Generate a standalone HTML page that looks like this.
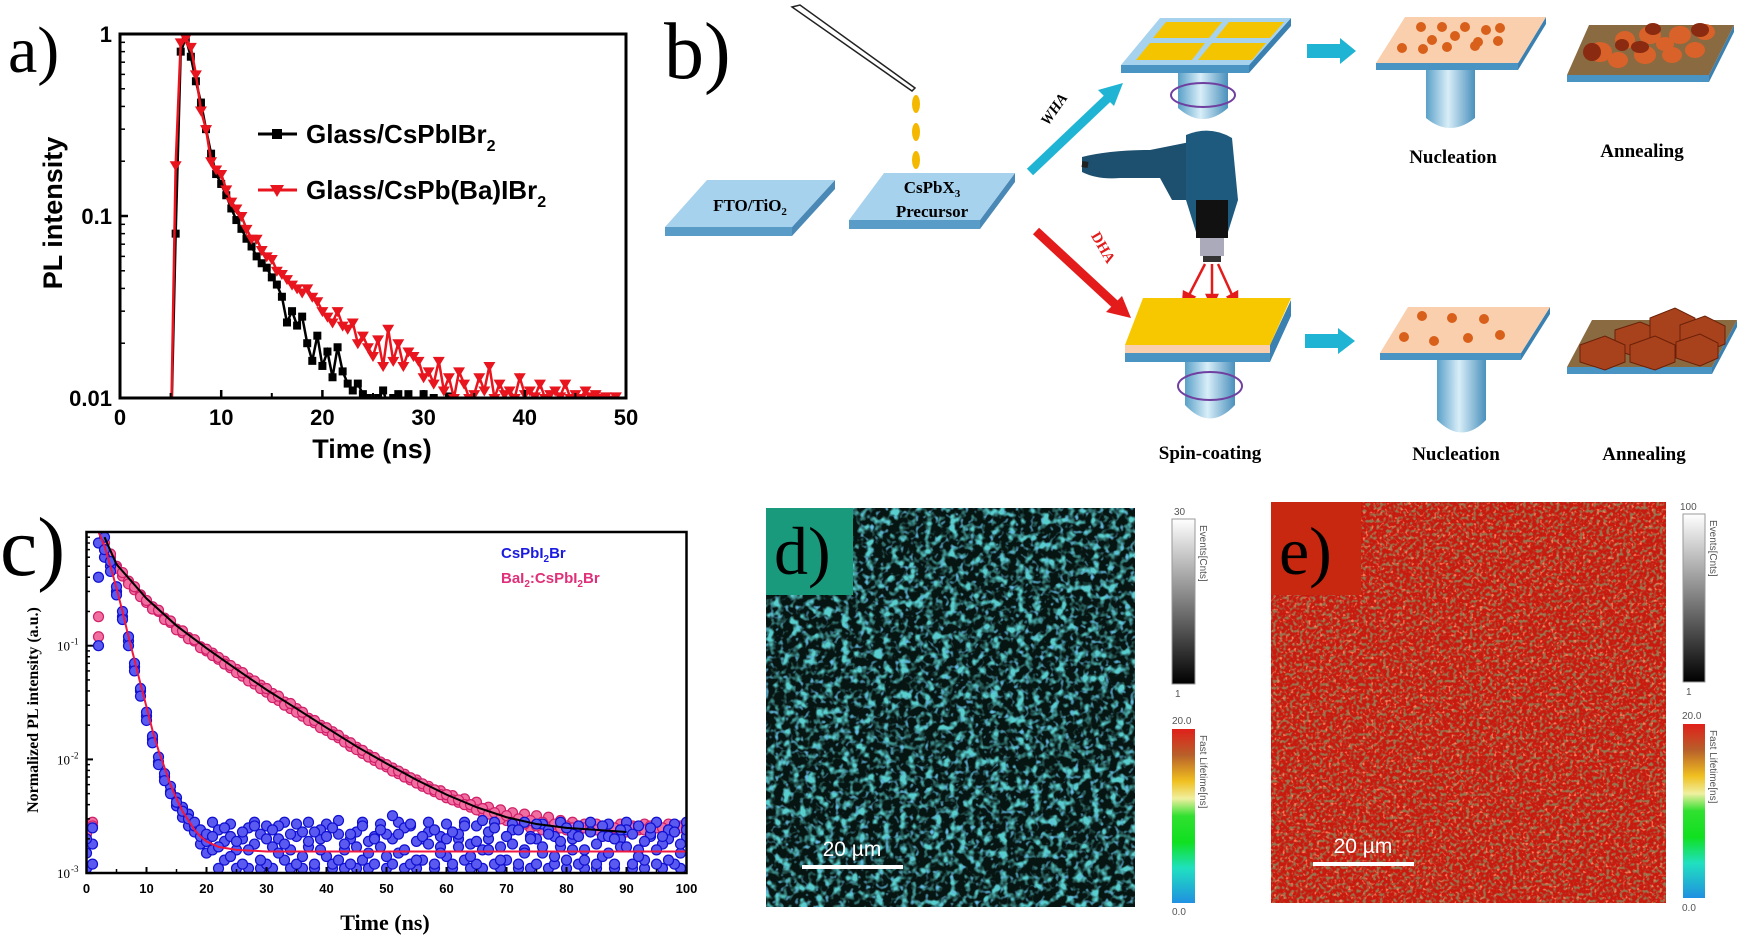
<!DOCTYPE html>
<html><head><meta charset="utf-8">
<style>
html,body{margin:0;padding:0;background:#fff;}
svg{display:block;}
.serif{font-family:"Liberation Serif",serif;}
.sans{font-family:"Liberation Sans",sans-serif;}
</style></head>
<body>
<svg id="fig" width="1750" height="937" viewBox="0 0 1750 937" xmlns="http://www.w3.org/2000/svg">
<defs>
  <clipPath id="clipA"><rect x="120" y="30" width="506" height="368"/></clipPath>
  <clipPath id="clipC"><rect x="86" y="530" width="601" height="343"/></clipPath>
  <clipPath id="clipD"><rect x="766" y="508" width="369" height="399"/></clipPath>
  <clipPath id="clipE"><rect x="1271" y="502" width="395" height="401"/></clipPath>
  <filter id="blobD" x="0" y="0" width="1" height="1">
    <feTurbulence type="fractalNoise" baseFrequency="0.12" numOctaves="2" seed="4"/>
    <feColorMatrix values="0 0 0 0 0.1  0 0 0 0 0.62  0 0 0 0 0.62  4 0 0 0 -1.9"/>
  </filter>
  <filter id="blobD2" x="0" y="0" width="1" height="1">
    <feTurbulence type="fractalNoise" baseFrequency="0.2" numOctaves="1" seed="9"/>
    <feColorMatrix values="0 0 0 0 0.12  0 0 0 0 0.5  0 0 0 0 0.75  5 0 0 0 -2.9"/>
  </filter>
  <filter id="speckE" x="0" y="0" width="1" height="1">
    <feTurbulence type="fractalNoise" baseFrequency="0.3" numOctaves="1" seed="2"/>
    <feColorMatrix values="0 0 0 0 0.3  0 0 0 0 0.18  0 0 0 0 0.08  5 0 0 0 -2.4"/>
  </filter>
  <filter id="speckE2" x="0" y="0" width="1" height="1">
    <feTurbulence type="fractalNoise" baseFrequency="0.35" numOctaves="1" seed="7"/>
    <feColorMatrix values="0 0 0 0 1  0 0 0 0 0.2  0 0 0 0 0.1  6 0 0 0 -3.5"/>
  </filter>
  <linearGradient id="gray" x1="0" y1="0" x2="0" y2="1"><stop offset="0" stop-color="#fff"/><stop offset="1" stop-color="#000"/></linearGradient>
  <linearGradient id="rainbow" x1="0" y1="0" x2="0" y2="1">
    <stop offset="0" stop-color="#e0201a"/><stop offset="0.15" stop-color="#b8602a"/><stop offset="0.3" stop-color="#f0c020"/>
    <stop offset="0.4" stop-color="#f0f0a0"/><stop offset="0.5" stop-color="#30e030"/><stop offset="0.65" stop-color="#10e020"/>
    <stop offset="0.8" stop-color="#20e0c0"/><stop offset="1" stop-color="#2090e0"/></linearGradient>
  <linearGradient id="pillar" x1="0" y1="0" x2="1" y2="0"><stop offset="0" stop-color="#5aa0c8"/><stop offset="0.45" stop-color="#d8eef8"/><stop offset="1" stop-color="#4a90bc"/></linearGradient>
</defs>

<!-- ============ PANEL A ============ -->
<g id="panelA">
  <text x="8" y="72" class="serif" font-size="66">a)</text>
  <g id="aMarks" clip-path="url(#clipA)"></g>
  <rect x="120" y="34" width="506" height="364" fill="none" stroke="#000" stroke-width="3"/>
  <g id="aAxes"></g>
  <text transform="translate(62,213) rotate(-90)" text-anchor="middle" class="sans" font-weight="bold" font-size="27">PL intensity</text>
  <text x="372" y="458" text-anchor="middle" class="sans" font-weight="bold" font-size="27">Time (ns)</text>
  <g>
    <g>
      <line x1="258" y1="134" x2="297" y2="134" stroke="#000" stroke-width="3"/>
      <rect x="272" y="129" width="10" height="10" fill="#000"/>
      <text x="306" y="143" class="sans" font-weight="bold" font-size="26">Glass/CsPbIBr<tspan font-size="16" dy="8">2</tspan></text>
    </g>
    <g>
      <line x1="258" y1="190" x2="297" y2="190" stroke="#e8141e" stroke-width="3"/>
      <path d="M270 185 L284 185 L277 197 Z" fill="#e8141e"/>
      <text x="306" y="199" class="sans" font-weight="bold" font-size="26">Glass/CsPb(Ba)IBr<tspan font-size="16" dy="8">2</tspan></text>
    </g>
  </g>
</g>

<!-- ============ PANEL C ============ -->
<g id="panelC">
  <text x="0" y="575" class="serif" font-size="84">c)</text>
  <g id="cMarks" clip-path="url(#clipC)"></g>
  <rect x="86.5" y="532" width="600" height="341" fill="none" stroke="#000" stroke-width="2.5"/>
  <g id="cAxes"></g>
  <text transform="translate(38,710) rotate(-90)" text-anchor="middle" class="serif" font-weight="bold" font-size="16">Normalized PL intensity (a.u.)</text>
  <text x="385" y="930" text-anchor="middle" class="serif" font-weight="bold" font-size="22">Time (ns)</text>
  <text x="501" y="558" class="sans" font-weight="bold" font-size="15" fill="#1a1ae0">CsPbI<tspan font-size="10" dy="4">2</tspan><tspan dy="-4">Br</tspan></text>
  <text x="501" y="583" class="sans" font-weight="bold" font-size="15" fill="#e0307a">BaI<tspan font-size="10" dy="4">2</tspan><tspan dy="-4">:CsPbI</tspan><tspan font-size="10" dy="4">2</tspan><tspan dy="-4">Br</tspan></text>
</g>

<!-- ============ PANEL B (schematic) ============ -->
<g id="panelB">
  <text x="664" y="78" class="serif" font-size="80">b)</text>
  <g>
    <path d="M792 7 L800 5 L915 88 L912 91 Z" fill="#fff" stroke="#222" stroke-width="1.5"/>
    <ellipse cx="916" cy="104" rx="4" ry="9" fill="#f5b800"/>
    <ellipse cx="916" cy="132" rx="4" ry="9" fill="#f5b800"/>
    <ellipse cx="916" cy="160" rx="4" ry="9" fill="#f5b800"/>
  </g>
  <g>
    <polygon points="665,227 792,227 792,236 665,236" fill="#5a9cc8"/>
    <polygon points="792,227 835,180 835,189 792,236" fill="#4a88b6"/>
    <polygon points="707,180 835,180 792,227 665,227" fill="#a6d2ee"/>
    <text x="750" y="211" text-anchor="middle" class="serif" font-weight="bold" font-size="17">FTO/TiO<tspan font-size="11" dy="4">2</tspan></text>
  </g>
  <g>
    <polygon points="849,220 980,220 980,229 849,229" fill="#5a9cc8"/>
    <polygon points="980,220 1015,173 1015,182 980,229" fill="#4a88b6"/>
    <polygon points="884,173 1015,173 980,220 849,220" fill="#a6d2ee"/>
    <text x="932" y="193" text-anchor="middle" class="serif" font-weight="bold" font-size="17">CsPbX<tspan font-size="11" dy="4">3</tspan></text>
    <text x="932" y="217" text-anchor="middle" class="serif" font-weight="bold" font-size="17">Precursor</text>
  </g>
  <g>
    <line x1="1030" y1="172" x2="1110" y2="96" stroke="#20b4d4" stroke-width="9"/>
    <polygon points="1123,83 1098,90 1114,106" fill="#20b4d4"/>
    <text transform="translate(1058,112) rotate(-55)" text-anchor="middle" class="serif" font-weight="bold" font-style="italic" font-size="15">WHA</text>
  </g>
  <g>
    <line x1="1036" y1="231" x2="1117" y2="306" stroke="#e41b1b" stroke-width="9"/>
    <polygon points="1131,318 1106,312 1122,296" fill="#e41b1b"/>
    <text transform="translate(1099,250) rotate(60)" text-anchor="middle" class="serif" font-weight="bold" font-size="15" fill="#e41b1b">DHA</text>
  </g>
  <g>
    <path d="M1082 157 Q1110 150 1150 150 L1190 142 L1196 200 L1172 200 L1160 178 L1120 178 Q1098 180 1082 172 Z" fill="#1d4f6e"/>
    <path d="M1186 135 Q1210 125 1232 138 L1238 200 L1228 232 L1196 232 L1186 200 Z" fill="#1e5a7e"/>
    <rect x="1196" y="200" width="32" height="38" fill="#111"/>
    <rect x="1200" y="238" width="24" height="18" fill="#aab"/>
    <rect x="1203" y="256" width="18" height="6" fill="#333"/>
    <path d="M1082 164 L1088 165" stroke="#222" stroke-width="6"/>
  </g>
  <g stroke="#e41b1b" stroke-width="2.5" fill="#e41b1b">
    <line x1="1205" y1="264" x2="1188" y2="297"/><polygon points="1183,305 1184,292 1194,297"/>
    <line x1="1212" y1="264" x2="1212" y2="298"/><polygon points="1212,306 1207,295 1217,295"/>
    <line x1="1218" y1="264" x2="1233" y2="297"/><polygon points="1237,305 1228,297 1237,292"/>
  </g>
  <g>
    <path d="M1178 72 L1228 72 L1228 108 Q1203 130 1178 108 Z" fill="url(#pillar)"/>
    <ellipse cx="1203" cy="95" rx="32" ry="12" fill="none" stroke="#7040a0" stroke-width="2"/>
    <polygon points="1121,65 1249,65 1249,73 1121,73" fill="#4a94c4"/>
    <polygon points="1249,65 1291,18 1291,26 1249,73" fill="#3a80b0"/>
    <polygon points="1160,18 1291,18 1249,65 1121,65" fill="#a6d2ee"/>
    <polygon points="1166,22 1222,22 1209,38 1153,38" fill="#f5c400"/>
    <polygon points="1229,22 1284,22 1270,38 1216,38" fill="#f5c400"/>
    <polygon points="1150,43 1205,43 1192,60 1136,60" fill="#f5c400"/>
    <polygon points="1212,43 1266,43 1252,60 1198,60" fill="#f5c400"/>
  </g>
  <polygon points="1307,44 1340,44 1340,38 1356,51 1340,64 1340,58 1307,58" fill="#20b4d4"/>
  <g>
    <path d="M1426 67 L1475 67 L1475 118 Q1450 138 1426 118 Z" fill="url(#pillar)"/>
    <polygon points="1376,63 1518,63 1518,70 1376,70" fill="#4a94c4"/>
    <polygon points="1518,63 1546,17 1546,24 1518,70" fill="#3a80b0"/>
    <polygon points="1405,17 1546,17 1518,63 1376,63" fill="#f9cfae"/>
    <g fill="#d8601a"><circle cx="1421" cy="27" r="5"/><circle cx="1442" cy="27" r="5"/><circle cx="1465" cy="27" r="5"/><circle cx="1486" cy="30" r="5"/><circle cx="1500" cy="28" r="5"/><circle cx="1432" cy="40" r="5"/><circle cx="1455" cy="36" r="5"/><circle cx="1478" cy="42" r="5"/><circle cx="1498" cy="41" r="5"/><circle cx="1402" cy="48" r="5"/><circle cx="1423" cy="49" r="5"/><circle cx="1447" cy="47" r="5"/><circle cx="1475" cy="46" r="5"/></g>
  </g>
  <g>
    <polygon points="1567,75 1709,75 1709,82 1567,82" fill="#4a94c4"/>
    <polygon points="1709,75 1734,25 1734,32 1709,82" fill="#3a80b0"/>
    <polygon points="1589,25 1734,25 1709,75 1567,75" fill="#8a6a40"/>
    <g fill="#d8622a"><ellipse cx="1600" cy="52" rx="12" ry="10"/><ellipse cx="1625" cy="40" rx="10" ry="9"/><ellipse cx="1650" cy="35" rx="11" ry="9"/><ellipse cx="1680" cy="35" rx="11" ry="9"/><ellipse cx="1705" cy="32" rx="10" ry="8"/><ellipse cx="1618" cy="60" rx="10" ry="8"/><ellipse cx="1645" cy="55" rx="11" ry="9"/><ellipse cx="1672" cy="55" rx="10" ry="8"/><ellipse cx="1695" cy="50" rx="10" ry="8"/><ellipse cx="1665" cy="44" rx="9" ry="7"/></g>
    <g fill="#8a2a10"><ellipse cx="1592" cy="52" rx="9" ry="9"/><ellipse cx="1653" cy="29" rx="8" ry="6"/><ellipse cx="1700" cy="30" rx="9" ry="7"/><ellipse cx="1640" cy="47" rx="9" ry="6"/><ellipse cx="1622" cy="45" rx="7" ry="6"/></g>
  </g>
  <text x="1453" y="163" text-anchor="middle" class="serif" font-weight="bold" font-size="19">Nucleation</text>
  <text x="1642" y="157" text-anchor="middle" class="serif" font-weight="bold" font-size="19">Annealing</text>
  <g>
    <path d="M1185 362 L1235 362 L1235 405 Q1210 432 1185 405 Z" fill="url(#pillar)"/>
    <ellipse cx="1210" cy="386" rx="32" ry="14" fill="none" stroke="#7040a0" stroke-width="2"/>
    <polygon points="1125,345 1270,345 1270,353 1125,353" fill="#f9cfae"/>
    <polygon points="1125,353 1270,353 1270,362 1125,362" fill="#4a94c4"/>
    <polygon points="1270,345 1291,300 1291,316 1270,362" fill="#3a80b0"/>
    <polygon points="1143,298 1291,298 1270,345 1125,345" fill="#f7c800"/>
  </g>
  <polygon points="1305,334 1338,334 1338,328 1355,341 1338,354 1338,348 1305,348" fill="#20b4d4"/>
  <g>
    <path d="M1437 358 L1486 358 L1486 420 Q1462 445 1437 420 Z" fill="url(#pillar)"/>
    <polygon points="1380,353 1521,353 1521,360 1380,360" fill="#4a94c4"/>
    <polygon points="1521,353 1550,307 1550,314 1521,360" fill="#3a80b0"/>
    <polygon points="1408,307 1550,307 1521,353 1380,353" fill="#f9cfae"/>
    <g fill="#d8601a"><circle cx="1422" cy="316" r="5"/><circle cx="1452" cy="318" r="5"/><circle cx="1484" cy="319" r="5"/><circle cx="1404" cy="337" r="5"/><circle cx="1434" cy="341" r="5"/><circle cx="1468" cy="338" r="5"/><circle cx="1500" cy="335" r="5"/></g>
  </g>
  <g>
    <polygon points="1567,367 1712,367 1712,374 1567,374" fill="#4a94c4"/>
    <polygon points="1712,367 1737,320 1737,327 1712,374" fill="#3a80b0"/>
    <polygon points="1592,320 1737,320 1712,367 1567,367" fill="#8a6a40"/>
    <g fill="#a8421c" stroke="#6a2008" stroke-width="1"><polygon points="1615,330 1640,322 1660,330 1660,350 1640,358 1615,350"/><polygon points="1650,318 1675,308 1695,318 1695,338 1675,346 1650,338"/><polygon points="1680,325 1705,316 1725,326 1725,344 1705,352 1680,344"/><polygon points="1580,345 1605,336 1625,345 1625,362 1605,370 1580,362"/><polygon points="1630,345 1655,336 1675,345 1675,362 1655,370 1630,362"/><polygon points="1676,342 1700,334 1718,343 1718,358 1700,366 1676,358"/></g>
  </g>
  <text x="1210" y="459" text-anchor="middle" class="serif" font-weight="bold" font-size="19">Spin-coating</text>
  <text x="1456" y="460" text-anchor="middle" class="serif" font-weight="bold" font-size="19">Nucleation</text>
  <text x="1644" y="460" text-anchor="middle" class="serif" font-weight="bold" font-size="19">Annealing</text>
</g>

<!-- ============ PANEL D ============ -->
<g id="panelD">
  <g clip-path="url(#clipD)">
    <rect x="766" y="508" width="369" height="399" fill="#071512"/>
    <rect x="766" y="508" width="369" height="399" filter="url(#blobD)"/>
    <rect x="766" y="508" width="369" height="399" filter="url(#blobD2)"/>
  </g>
  <rect x="766" y="508" width="87" height="87" fill="#1a9a7c"/>
  <text x="774" y="574" class="serif" font-size="68">d)</text>
  <line x1="802" y1="867" x2="903" y2="867" stroke="#fff" stroke-width="4"/>
  <text x="852" y="856" text-anchor="middle" class="sans" font-size="21" fill="#fff">20 µm</text>
  <g>
    <rect x="1172" y="519" width="23" height="165" fill="url(#gray)" stroke="#999"/>
    <text x="1174" y="515" class="sans" font-size="10" fill="#555">30</text>
    <text x="1175" y="697" class="sans" font-size="10" fill="#555">1</text>
    <text transform="translate(1200,525) rotate(90)" class="sans" font-size="10" fill="#555">Events[Cnts]</text>
  </g>
  <g>
    <rect x="1172" y="729" width="23" height="174" fill="url(#rainbow)"/>
    <text x="1172" y="724" class="sans" font-size="10" fill="#555">20.0</text>
    <text x="1172" y="915" class="sans" font-size="10" fill="#555">0.0</text>
    <text transform="translate(1200,735) rotate(90)" class="sans" font-size="10" fill="#555">Fast Lifetime[ns]</text>
  </g>
</g>

<!-- ============ PANEL E ============ -->
<g id="panelE">
  <g clip-path="url(#clipE)">
    <rect x="1271" y="502" width="395" height="401" fill="#c81a0e"/>
    <rect x="1271" y="502" width="395" height="401" filter="url(#speckE)"/>
    <rect x="1271" y="502" width="395" height="401" filter="url(#speckE2)"/>
  </g>
  <rect x="1271" y="502" width="90" height="93" fill="#c8280f"/>
  <text x="1279" y="574" class="serif" font-size="68">e)</text>
  <line x1="1313" y1="864" x2="1414" y2="864" stroke="#fff" stroke-width="4"/>
  <text x="1363" y="853" text-anchor="middle" class="sans" font-size="21" fill="#fff">20 µm</text>
  <g>
    <rect x="1683" y="514" width="22" height="168" fill="url(#gray)" stroke="#999"/>
    <text x="1680" y="510" class="sans" font-size="10" fill="#555">100</text>
    <text x="1686" y="695" class="sans" font-size="10" fill="#555">1</text>
    <text transform="translate(1710,520) rotate(90)" class="sans" font-size="10" fill="#555">Events[Cnts]</text>
  </g>
  <g>
    <rect x="1683" y="724" width="22" height="174" fill="url(#rainbow)"/>
    <text x="1682" y="719" class="sans" font-size="10" fill="#555">20.0</text>
    <text x="1682" y="911" class="sans" font-size="10" fill="#555">0.0</text>
    <text transform="translate(1710,730) rotate(90)" class="sans" font-size="10" fill="#555">Fast Lifetime[ns]</text>
  </g>
</g>
</svg>

<script>
// ---------- Panel A data ----------
const aStart = 5.0, aStep = 0.5;
const aXTicks = [0, 10, 20, 30, 40, 50];
const aYTicks = [1, 0.1, 0.01];
const aYTickLabels = ["1", "0.1", "0.01"];
const blackVals = [0.005,0.08,0.8,0.95,0.75,0.55,0.42,0.3,0.22,0.17,0.15,0.13,0.11,0.095,0.085,0.075,0.068,0.06,0.055,0.052,0.046,0.042,0.036,0.026,0.03,0.025,0.028,0.02,0.016,0.022,0.015,0.018,0.013,0.019,0.014,0.012,0.011,0.012,0.0105,0.01,0.009,0.01,0.011,0.009,0.01,0.0105,0.0095,0.0105,0.009,0.008,0.0105,0.009,0.01,0.008,0.009,0.0102,0.008];
const redVals = [0.005,0.19,0.9,0.95,0.85,0.6,0.38,0.3,0.2,0.18,0.17,0.14,0.12,0.11,0.1,0.085,0.075,0.075,0.065,0.06,0.058,0.05,0.048,0.045,0.042,0.04,0.038,0.04,0.036,0.034,0.03,0.028,0.026,0.03,0.025,0.024,0.026,0.02,0.022,0.019,0.017,0.021,0.015,0.024,0.016,0.02,0.015,0.018,0.017,0.016,0.013,0.014,0.012,0.016,0.011,0.013,0.01,0.014,0.012,0.01,0.0105,0.013,0.011,0.015,0.01,0.012,0.0105,0.011,0.01,0.013,0.0105,0.011,0.0102,0.012,0.01,0.0105,0.011,0.0102,0.012,0.01,0.0105,0.01,0.011,0.0102,0.0105,0.01,0.0102,0.0098,0.0102];

// ---------- Panel C data ----------
const cStart = 0, cStep = 1;
const cXTicks = [0,10,20,30,40,50,60,70,80,90,100];
const cYTicks = [1, 0.1, 0.01, 0.001];
const cYTickLabels = ["", "10", "10", "10"];
const cYTickExp = ["", "-1", "-2", "-3"];
const blueA = [0.002,0.0025,0.8,0.7,0.45,0.28,0.17,0.1,0.06,0.036,0.022,0.014,0.009,0.0065,0.005,0.0042,0.0035,0.003,0.0028,0.0024,0.0022,0.0021,0.0017,0.0025,0.0014,0.0019,0.0023,0.0016,0.0026,0.0013,0.002,0.0024,0.0015,0.0018,0.0022,0.0027,0.0014,0.0019,0.0023,0.0016,0.0021,0.0025,0.0013,0.0018,0.0022,0.0017,0.0026,0.0015,0.002,0.0024,0.0014,0.0032,0.0022,0.0016,0.0027,0.0013,0.0021,0.0018,0.0024,0.0015,0.002,0.0023,0.0017,0.0026,0.0014,0.0019,0.0029,0.0016,0.0025,0.0013,0.0021,0.0018,0.0024,0.0015,0.002,0.0027,0.0017,0.0022,0.0014,0.0019,0.0025,0.0016,0.0021,0.0013,0.0023,0.0018,0.0026,0.0015,0.002,0.0024,0.0017,0.0022,0.0014,0.0019,0.0025,0.0016,0.0021,0.0013,0.0023,0.0018,0.0024];
const blueB = [0.0015,0.0012,0.4,0.9,0.55,0.33,0.2,0.12,0.07,0.042,0.026,0.016,0.0105,0.0075,0.0058,0.0046,0.0038,0.0033,0.0026,0.0021,0.0019,0.0016,0.0024,0.0013,0.0021,0.0016,0.0012,0.0025,0.0018,0.0022,0.0012,0.0017,0.0026,0.0013,0.0016,0.0012,0.0023,0.0017,0.0012,0.0024,0.0014,0.0012,0.0022,0.0016,0.0012,0.0023,0.0013,0.0019,0.0012,0.0017,0.0022,0.0012,0.0015,0.0025,0.0012,0.0019,0.0013,0.0023,0.0012,0.0017,0.0014,0.0012,0.0022,0.0013,0.0018,0.0012,0.0016,0.0023,0.0012,0.0017,0.0013,0.0024,0.0012,0.0016,0.0021,0.0012,0.0015,0.0024,0.0012,0.0017,0.0013,0.0022,0.0012,0.0016,0.0023,0.0012,0.0014,0.0021,0.0012,0.0017,0.0024,0.0012,0.0016,0.0013,0.0022,0.0012,0.0018,0.0024,0.0012,0.0015,0.0021];
const blueC = [0.0011,0.0018,0.1,0.6,0.5,0.3,0.18,0.11,0.065,0.04,0.024,0.015,0.0095,0.007,0.0052,0.0039,0.0031,0.0026,0.0023,0.0018,0.0015,0.0028,0.0011,0.0019,0.0027,0.0011,0.002,0.0011,0.0028,0.0011,0.0026,0.0011,0.002,0.0028,0.0011,0.0021,0.0011,0.0028,0.0011,0.002,0.0027,0.0011,0.0029,0.0011,0.002,0.0011,0.0028,0.0011,0.0021,0.0027,0.0011,0.002,0.0028,0.0011,0.0026,0.0011,0.002,0.0028,0.0011,0.0021,0.0027,0.0011,0.002,0.0028,0.0011,0.0026,0.0011,0.002,0.0028,0.0011,0.0021,0.0027,0.0011,0.0028,0.0011,0.002,0.0027,0.0011,0.0021,0.0028,0.0011,0.002,0.0026,0.0011,0.0028,0.0011,0.0021,0.0027,0.0011,0.002,0.0028,0.0011,0.0026,0.0011,0.0021,0.0028,0.0011,0.002,0.0027,0.0011,0.0028];
const pinkA = [0.0025,0.0028,0.18,0.8,0.6,0.5,0.41,0.37,0.31,0.28,0.24,0.22,0.2,0.175,0.16,0.14,0.13,0.118,0.11,0.098,0.09,0.086,0.076,0.073,0.064,0.062,0.054,0.052,0.046,0.045,0.039,0.038,0.033,0.032,0.028,0.028,0.024,0.023,0.021,0.02,0.018,0.0175,0.0155,0.0148,0.013,0.0128,0.0113,0.011,0.0098,0.0095,0.0086,0.0084,0.0075,0.0074,0.0066,0.0066,0.0058,0.0058,0.0052,0.0053,0.0046,0.0048,0.0042,0.0045,0.0038,0.0042,0.0034,0.0038,0.0031,0.0036,0.0029,0.0034,0.0027,0.0033,0.0025,0.0032,0.0024,0.0031,0.0023,0.0029,0.0024,0.0028,0.0023,0.0027,0.0024,0.0027,0.0023,0.0026,0.0024,0.0027,0.0023,0.0026,0.0024,0.0027,0.0023,0.0026,0.0024,0.0027,0.0023,0.0026,0.0025];
const pinkB = [0.0022,0.0026,0.12,0.7,0.64,0.48,0.44,0.35,0.33,0.27,0.25,0.21,0.205,0.17,0.165,0.138,0.135,0.115,0.113,0.096,0.093,0.082,0.079,0.069,0.067,0.058,0.058,0.049,0.049,0.042,0.042,0.035,0.036,0.03,0.031,0.026,0.026,0.022,0.022,0.019,0.019,0.0165,0.0163,0.0142,0.014,0.0122,0.012,0.0105,0.0104,0.0091,0.009,0.0079,0.0079,0.007,0.0069,0.0062,0.0061,0.0055,0.0054,0.0049,0.0049,0.0044,0.0044,0.004,0.004,0.0036,0.0037,0.0033,0.0034,0.003,0.0032,0.0028,0.003,0.0027,0.0029,0.0026,0.0028,0.0025,0.0027,0.0025,0.0026,0.0025,0.0026,0.0025,0.0026,0.0024,0.0026,0.0025,0.0025,0.0024,0.0026,0.0025,0.0025,0.0024,0.0026,0.0025,0.0025,0.0024,0.0026,0.0025,0.0025];
const fitBlueT = [2,3,4,5,6,7,8,9,10,11,12,13,14,15,16,17,18,19,20,22,25,30,100];
const fitBlueV = [1,0.75,0.5,0.32,0.2,0.12,0.075,0.046,0.029,0.018,0.012,0.0085,0.006,0.0045,0.0035,0.0029,0.0024,0.0021,0.0019,0.0017,0.0016,0.00155,0.00155];
const fitPinkT = [3,5,10,15,20,25,30,35,40,45,50,55,60,65,70,75,80,85,90];
const fitPinkV = [0.9,0.52,0.26,0.15,0.095,0.062,0.041,0.028,0.019,0.013,0.0092,0.0066,0.0049,0.0038,0.0031,0.0027,0.0025,0.0024,0.0023];

const NS = "http://www.w3.org/2000/svg";
function mk(tag, attrs, parent) {
  const e = document.createElementNS(NS, tag);
  for (const k in attrs) e.setAttribute(k, attrs[k]);
  parent.appendChild(e);
  return e;
}

const axA = { x: t => 120 + t * (506 / 50), y: v => 34 + (-Math.log10(v)) * 182 };
const axC = { x: t => 86.5 + t * 6.0, y: v => 532 + (-Math.log10(v)) * 113.7 };

(function () {
  const g = document.getElementById("aAxes");
  aXTicks.forEach(t => {
    const l = mk("line", { x1: axA.x(t), x2: axA.x(t), y1: 398, y2: 390, stroke: "#000", "stroke-width": 2.5 }, g);
    
    
    const tx = mk("text", { x: axA.x(t), y: 425, "text-anchor": "middle", class: "sans", "font-weight": "bold", "font-size": 22 }, g);
    tx.textContent = t;
    
    
  });
  for (let t = 5; t < 50; t += 10) {
    mk("line", { x1: axA.x(t), x2: axA.x(t), y1: 398, y2: 393, stroke: "#000", "stroke-width": 2 }, g);
  }
  aYTicks.forEach((v, i) => {
    mk("line", { x1: 120, x2: 128, y1: axA.y(v), y2: axA.y(v), stroke: "#000", "stroke-width": 2.5 }, g);
    const tx = mk("text", { x: 112, y: axA.y(v) + 8, "text-anchor": "end", class: "sans", "font-weight": "bold", "font-size": 22 }, g);
    tx.textContent = aYTickLabels[i];
    
    
  });
  [0.1, 0.01].forEach(d => { for (let m = 2; m < 10; m++) {
    mk("line", { x1: 120, x2: 125, y1: axA.y(d * m), y2: axA.y(d * m), stroke: "#000", "stroke-width": 1.5 }, g);
  }});
})();

(function () {
  const g = document.getElementById("aMarks");
  function series(vals, color, name, marker) {
    const pts = vals.map((v, i) => [axA.x(aStart + i * aStep), axA.y(Math.max(v, 0.005))]);
    const pl = mk("polyline", { points: pts.map(p => p.join(",")).join(" "), fill: "none", stroke: color, "stroke-width": 2.5 }, g);
    
    
    pts.forEach(p => {
      let m;
      if (marker === "sq") m = mk("rect", { x: p[0] - 4, y: p[1] - 4, width: 8, height: 8, fill: color }, g);
      else m = mk("path", { d: `M${p[0] - 6} ${p[1] - 4} L${p[0] + 6} ${p[1] - 4} L${p[0]} ${p[1] + 6} Z`, fill: color }, g);
      
      
    });
  }
  series(blackVals, "#000", "glass-cspbibr2", "sq");
  series(redVals, "#e8141e", "glass-cspbbaibr2", "tri");
})();

(function () {
  const g = document.getElementById("cAxes");
  cXTicks.forEach(t => {
    mk("line", { x1: axC.x(t), x2: axC.x(t), y1: 873, y2: 867, stroke: "#000", "stroke-width": 2 }, g);
    const tx = mk("text", { x: axC.x(t), y: 893, "text-anchor": "middle", class: "sans", "font-weight": "bold", "font-size": 13 }, g);
    tx.textContent = t;
    
    
  });
  for (let t = 5; t < 100; t += 10) mk("line", { x1: axC.x(t), x2: axC.x(t), y1: 873, y2: 869, stroke: "#000", "stroke-width": 1.5 }, g);
  cYTicks.forEach((v, i) => {
    mk("line", { x1: 86.5, x2: 93, y1: axC.y(v), y2: axC.y(v), stroke: "#000", "stroke-width": 2 }, g);
    if (cYTickLabels[i]) {
      const tx = mk("text", { x: 70, y: axC.y(v) + 5, "text-anchor": "end", class: "serif", "font-size": 13 }, g);
      tx.textContent = cYTickLabels[i];
      
      
      const ex = mk("text", { x: 71, y: axC.y(v) - 1, class: "serif", "font-size": 9 }, g);
      ex.textContent = cYTickExp[i];
    }
  });
  [0.1, 0.01, 0.001].forEach(d => { for (let m = 2; m < 10; m++) {
    mk("line", { x1: 86.5, x2: 90, y1: axC.y(d * m), y2: axC.y(d * m), stroke: "#000", "stroke-width": 1.5 }, g);
  }});
})();

(function () {
  const g = document.getElementById("cMarks");
  function scatter(vals, fill, stroke, name) {
    vals.forEach((v, i) => {
      const c = mk("circle", { cx: axC.x(cStart + i * cStep), cy: axC.y(v), r: 5, fill: fill, stroke: stroke, "stroke-width": 1.2 }, g);
      
      
    });
  }
  scatter(pinkA, "#f06fa0", "#d0206a", "bai2-point");
  scatter(pinkB, "#f06fa0", "#d0206a", "bai2-point");
  scatter(blueC, "#5a5af0", "#1010d0", "cspbi2br-point");
  scatter(blueB, "#5a5af0", "#1010d0", "cspbi2br-point");
  scatter(blueA, "#5a5af0", "#1010d0", "cspbi2br-point");
  const f1 = mk("polyline", { points: fitPinkT.map((t, i) => axC.x(t) + "," + axC.y(fitPinkV[i])).join(" "), fill: "none", stroke: "#000", "stroke-width": 2 }, g);
  
  
  const f2 = mk("polyline", { points: fitBlueT.map((t, i) => axC.x(t) + "," + axC.y(fitBlueV[i])).join(" "), fill: "none", stroke: "#f01840", "stroke-width": 2 }, g);
  
  
})();
</script>
</body></html>
